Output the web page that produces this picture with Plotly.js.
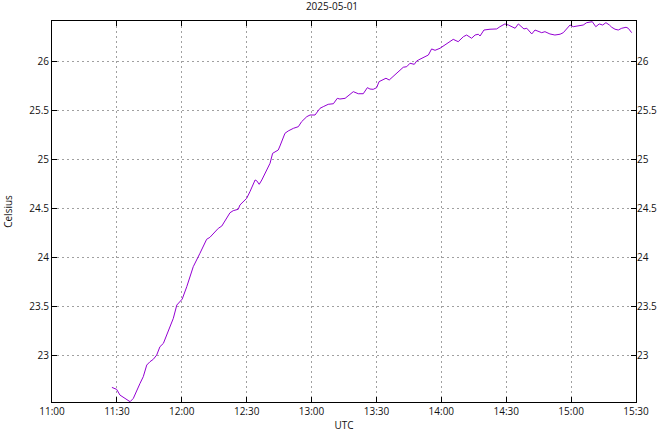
<!DOCTYPE html>
<html><head><meta charset="utf-8">
<script src="https://cdn.plot.ly/plotly-3.0.1.min.js"></script>
<style>html,body{margin:0;padding:0;background:#fff}</style>
</head><body><div id="chart" style="width:664px;height:432px"></div>
<script>
// minutes after 11:00 UTC
const minutes = [27.7,29.9,31.4,33.7,36.1,37.6,39.2,40.7,42.2,43.8,45.3,46.8,48.4,49.9,51.5,53.0,54.6,56.1,57.7,59.2,
60.2,62.3,65.3,68.4,71.5,73.0,74.6,76.9,78.5,80.8,82.3,83.8,86.1,86.9,88.4,90.0,91.5,93.9,94.6,95.8,97.0,98.5,100.8,102.0,103.9,104.6,
105.4,107.7,109.2,111.6,113.9,115.4,117.8,119.3,121.6,123.9,125.4,127.7,130.1,131.9,133.1,135.5,137.8,139.3,141.6,143.9,145.8,147.0,148.5,150.1,
151.2,153.2,154.4,155.9,158.6,160.9,162.4,164.0,165.5,167.5,168.6,169.4,172.4,174.0,175.5,177.1,179.4,181.7,184.0,185.5,187.8,190.2,191.7,194.0,
195.6,197.1,197.9,199.7,202.5,205.6,207.1,209.4,211.0,212.5,214.1,215.6,217.2,218.2,219.5,221.8,223.3,224.8,226.4,227.9,230.2,232.5,234.9,236.4,
238.0,239.5,241.0,243.3,245.6,247.2,248.7,249.8,251.4,253.0,254.6,256.1,257.7,258.8,260.3,261.8,263.4,265.4,266.4,268.0];
const celsius = [22.673,22.653,22.595,22.561,22.527,22.561,22.646,22.714,22.782,22.901,22.935,22.959,23.003,23.088,23.122,23.207,23.292,23.378,23.513,23.547,
23.574,23.700,23.904,24.041,24.184,24.204,24.245,24.296,24.319,24.398,24.455,24.476,24.490,24.534,24.567,24.602,24.669,24.789,24.782,24.745,24.789,24.863,24.959,25.061,25.085,25.095,
25.136,25.265,25.289,25.316,25.333,25.384,25.435,25.452,25.452,25.520,25.537,25.561,25.567,25.622,25.615,25.622,25.663,25.690,25.669,25.669,25.731,25.717,25.714,25.731,
25.792,25.819,25.827,25.809,25.860,25.901,25.939,25.945,25.980,25.969,26.003,26.013,26.047,26.064,26.126,26.112,26.133,26.166,26.200,26.224,26.200,26.251,26.268,26.235,
26.268,26.276,26.258,26.319,26.327,26.330,26.353,26.381,26.370,26.353,26.337,26.381,26.347,26.330,26.337,26.279,26.319,26.302,26.292,26.302,26.279,26.268,26.276,26.292,
26.337,26.370,26.353,26.360,26.370,26.394,26.404,26.404,26.353,26.381,26.370,26.394,26.370,26.347,26.327,26.319,26.337,26.347,26.337,26.292];
const dayTitle = "2025-05-01";
const xTitle = "UTC";
const yTitle = "Celsius";
const xRange = ["2025-05-01 11:00", "2025-05-01 15:30"];
const yRange = [22.524, 26.411];

const base = Date.UTC(2025, 4, 1, 11, 0, 0);
function iso(m){ const d = new Date(base + m*60000); return d.toISOString().replace('T',' ').replace('Z',''); }
const times = minutes.map(iso);

const font = {family: "Open Sans, Noto Sans, sans-serif", size: 10, color: "#111"};
const gridCol = "#a0a0a0";

const data = [
  {x: times, y: celsius, type: "scatter", mode: "lines", line: {color: "#9400d3", width: 1}, hoverinfo: "skip"},
  {x: times, y: celsius, type: "scatter", mode: "lines", yaxis: "y2", line: {color: "rgba(0,0,0,0)", width: 0}, hoverinfo: "skip"}
];
const layout = {
  width: 664, height: 432,
  margin: {l: 52, r: 28, t: 21, b: 30},
  paper_bgcolor: "#fff", plot_bgcolor: "#fff",
  font: font, showlegend: false,
  title: {text: dayTitle, font: font, x: 0.5, xanchor: "center", yref: "container", y: 0.985, yanchor: "middle"},
  xaxis: {type: "date", range: xRange, dtick: 30*60000, tick0: "2025-05-01 11:00", tickformat: "%H:%M",
    ticks: "inside", ticklen: 5, tickcolor: "#000", showline: true, linecolor: "#000", linewidth: 1, mirror: "ticks",
    showgrid: true, gridcolor: gridCol, griddash: "2px,3px", gridwidth: 1, zeroline: false,
    title: {text: xTitle, font: font, standoff: 11}, tickfont: font},
  yaxis: {range: yRange, dtick: 0.5, tick0: 23, ticks: "inside", ticklen: 5, tickcolor: "#000",
    showline: true, linecolor: "#000", linewidth: 1, mirror: "ticks",
    showgrid: true, gridcolor: gridCol, griddash: "2px,3px", gridwidth: 1, zeroline: false,
    title: {text: yTitle, font: font, standoff: 14}, tickfont: font},
  yaxis2: {range: yRange, dtick: 0.5, tick0: 23, overlaying: "y", side: "right", ticks: "",
    showline: false, showgrid: false, zeroline: false, tickfont: font}
};
Plotly.newPlot("chart", data, layout, {staticPlot: true, displayModeBar: false});
</script></body></html>
